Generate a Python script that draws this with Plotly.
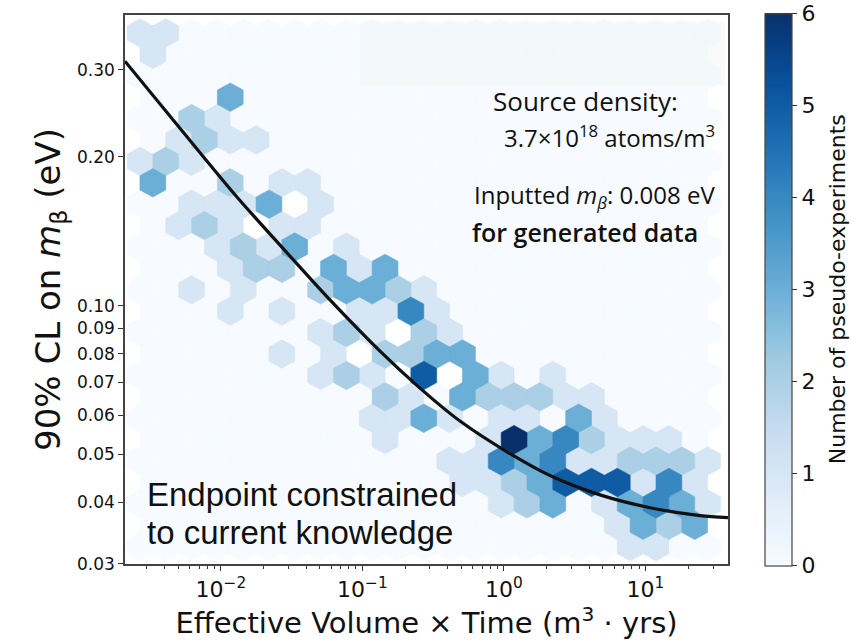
import numpy as np
import plotly.graph_objects as go

# ---------------- data ----------------
# hexbin lattice (matplotlib-style, log-log binning), gridsize (22, 12)
X_BIN_MIN, X_BIN_MAX = 0.002677, 27.47
Y_BIN_MIN, Y_BIN_MAX = 0.03252, 0.3565
GRID_NX, GRID_NY = 22, 12

# counts per hex row, top row first. even rows: 23 cells, odd rows: 22 cells
# '.' = 0 pseudo-experiments, 'w' = empty (not drawn), digits = counts
COUNT_ROWS = [
    "11.....................",
    "1.....................",
    ".......................",
    "...3..................",
    "..21...................",
    ".1211.................",
    "121....................",
    "3..2.11...............",
    "..1113w1...............",
    ".121w11...............",
    "...1213.1..............",
    "...122.313............",
    "..1.1..23321...........",
    "...1.1..1141..........",
    ".......121w21..........",
    ".....1.1w2233.........",
    ".......121.5w31.1......",
    ".........21.322211....",
    ".........1131.11.31....",
    ".........1...16342111.",
    "............11434112221",
    "............1123555141",
    "..............123.13431",
    "..................1323",
    "...................11..",
]

# fitted curve (black line)
LINE_X = [0.002097, 0.005132, 0.01297, 0.02926, 0.05894, 0.1330, 0.2549,
          0.4887, 1.050, 2.114, 4.769, 10.76, 24.28, 38.28]
LINE_Y = [0.3125, 0.2287, 0.1660, 0.1280, 0.1027, 0.0809, 0.0681,
          0.0584, 0.0506, 0.0453, 0.0414, 0.0390, 0.0376, 0.03725]

X_TICKS = [0.01, 0.1, 1, 10]
X_TICK_TEXT = ["10<sup>−2</sup>", "10<sup>−1</sup>", "10<sup>0</sup>", "10<sup>1</sup>"]
Y_TICKS = [0.03, 0.04, 0.05, 0.06, 0.07, 0.08, 0.09, 0.10, 0.20, 0.30]
Y_TICK_TEXT = ["0.03", "0.04", "0.05", "0.06", "0.07", "0.08", "0.09", "0.10", "0.20", "0.30"]
CBAR_TICKS = [0, 1, 2, 3, 4, 5, 6]
COUNT_MAX = 6

# ---------------- style ----------------
BLUES = ["#f7fbff", "#deebf7", "#c6dbef", "#9ecae1", "#6baed6",
         "#4292c6", "#2171b5", "#08519c", "#08306b"]


def blues(f):
    f = min(max(f, 0.0), 1.0) * (len(BLUES) - 1)
    i = min(int(f), len(BLUES) - 2)
    t = f - i
    a = [int(BLUES[i][k:k + 2], 16) for k in (1, 3, 5)]
    b = [int(BLUES[i + 1][k:k + 2], 16) for k in (1, 3, 5)]
    c = [round(a[k] + (b[k] - a[k]) * t) for k in range(3)]
    return "rgb(%d,%d,%d)" % tuple(c)


colorscale = [[k / 16, blues(k / 16)] for k in range(17)]

lx0, lx1 = np.log10(X_BIN_MIN), np.log10(X_BIN_MAX)
ly0, ly1 = np.log10(Y_BIN_MIN), np.log10(Y_BIN_MAX)
sx = (lx1 - lx0) / GRID_NX
sy = (ly1 - ly0) / GRID_NY
HEX = [(0.5, -0.5), (0.5, 0.5), (0.0, 1.0), (-0.5, 0.5), (-0.5, -0.5), (0.0, -1.0), (0.5, -0.5)]

polys = {}
for r, row in enumerate(COUNT_ROWS):
    j = r // 2
    if r % 2 == 0:
        cy, off = ly1 - j * sy, 0.0
    else:
        cy, off = ly1 - (j + 0.5) * sy, 0.5
    for i, ch in enumerate(row):
        cx = lx0 + (i + off) * sx
        xs = [10 ** (cx + hx * sx) for hx, hy in HEX]
        ys = [10 ** (cy + hy * sy / 3) for hx, hy in HEX]
        px, py = polys.setdefault(ch, ([], []))
        px.extend(xs + [None])
        py.extend(ys + [None])

fig = go.Figure()
order = [".", "w"] + [str(k) for k in range(1, COUNT_MAX + 1)]
for ch in order:
    if ch not in polys:
        continue
    if ch == "w":
        col = "#ffffff"
    elif ch == ".":
        col = blues(0)
    else:
        col = blues(int(ch) / COUNT_MAX)
    xs, ys = polys[ch]
    fig.add_trace(go.Scatter(x=xs, y=ys, mode="lines", fill="toself",
                             fillcolor=col, line=dict(color=col, width=0.6),
                             hoverinfo="skip", showlegend=False))

fig.add_trace(go.Scatter(x=LINE_X, y=LINE_Y, mode="lines",
                         line=dict(color="#111111", width=3.2, shape="spline", smoothing=0.8),
                         showlegend=False))

# colour bar carrier
fig.add_trace(go.Scatter(
    x=[X_BIN_MIN], y=[Y_BIN_MIN], mode="markers", hoverinfo="skip", showlegend=False,
    marker=dict(size=0.1, opacity=0, color=[0], cmin=0, cmax=COUNT_MAX,
                colorscale=colorscale, showscale=True,
                colorbar=dict(
                    x=1.061, xanchor="left", y=0.5, yanchor="middle", len=1.005,
                    thickness=27, ypad=0, xpad=0,
                    outlinecolor="#444444", outlinewidth=1.2,
                    tickmode="array", tickvals=CBAR_TICKS, ticktext=[str(v) for v in CBAR_TICKS],
                    ticks="outside", ticklen=5, ticklabeloverflow="allow",
                    tickcolor="#333333",
                    tickfont=dict(family="DejaVu Sans", size=22, color="#111111")))))

axis_common = dict(showline=True, mirror=True, linecolor="#444444", linewidth=1.5,
                   showgrid=False, zeroline=False, ticks="outside", ticklen=5,
                   tickcolor="#333333", automargin=False)

minor_x = [m * 10.0 ** e for e in range(-3, 2) for m in range(2, 10)]

fig.update_layout(
    width=854, height=640,
    margin=dict(l=125, r=126, t=15, b=76),
    paper_bgcolor="white", plot_bgcolor="white",
    font=dict(family="DejaVu Sans", color="#111111"),
    xaxis=dict(type="log", range=[-2.678, 1.583], tickvals=X_TICKS, ticktext=X_TICK_TEXT,
               tickfont=dict(size=22),
               minor=dict(tickvals=minor_x, ticks="outside", ticklen=3, tickcolor="#333333"),
               title=dict(text="Effective Volume × Time (m<sup>3</sup> · yrs)",
                          font=dict(size=29), standoff=9),
               **axis_common),
    yaxis=dict(type="log", range=[-1.5229, -0.4116], tickvals=Y_TICKS, ticktext=Y_TICK_TEXT,
               tickfont=dict(size=17),
               title=dict(text="90% CL on <i>m</i><sub>β</sub> (eV)",
                          font=dict(size=34), standoff=6),
               **axis_common),
)

fig.add_shape(type="rect", xref="paper", yref="paper", x0=0.39, x1=0.995, y0=0.872, y1=0.988,
              fillcolor="rgba(236,243,240,0.35)", line=dict(width=0), layer="above")

# colour-bar label
fig.add_annotation(text="Number of pseudo-experiments", x=1.182, y=0.5, xref="paper", yref="paper",
                   xanchor="center", yanchor="middle", textangle=-90, showarrow=False,
                   font=dict(family="DejaVu Sans", size=22, color="#111111"))

ann = [
    ("Source density:", 0.763, 0.843, "center", dict(family="Open Sans", size=26)),
    ("3.7×10<sup>18</sup> atoms/m<sup>3</sup>", 0.803, 0.779, "center", dict(family="Open Sans", size=24)),
    ("Inputted <i>m<sub>β</sub></i>: 0.008 eV", 0.779, 0.670, "center", dict(family="Open Sans", size=24)),
    ("for generated data", 0.763, 0.604, "center", dict(family="Open Sans", size=25, weight=600)),
    ("Endpoint constrained", 0.033, 0.126, "left", dict(family="Liberation Sans", size=33)),
    ("to current knowledge", 0.033, 0.058, "left", dict(family="Liberation Sans", size=33)),
]
for text, x, y, anchor, f in ann:
    f = dict(f, color="#111111")
    fig.add_annotation(text=text, x=x, y=y, xref="paper", yref="paper", xanchor=anchor,
                       yanchor="middle", showarrow=False, font=f)

# remove the page's default 8px body margin so the 854x640 figure fills the window
fig.write_html("out.html", config={"displayModeBar": False},
               post_script="document.body.style.margin='0px';")
